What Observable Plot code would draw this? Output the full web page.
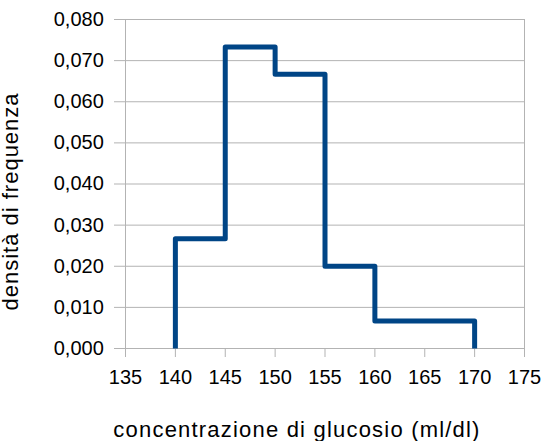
<!DOCTYPE html>
<html><head><meta charset="utf-8">
<script src="https://cdn.jsdelivr.net/npm/d3@7"></script>
<script src="https://cdn.jsdelivr.net/npm/@observablehq/plot@0.6"></script>
<style>body{margin:0;background:#fff}</style>
</head><body><div id="chart"></div>
<script>
const binStarts = [140, 145, 150, 155, 160, 165];
const binEnds = [145, 150, 155, 160, 165, 170];
const densities = [0.0267, 0.0733, 0.0667, 0.0200, 0.0067, 0.0067];
const xTicks = [135, 140, 145, 150, 155, 160, 165, 170, 175];
const yTicks = [0, 0.01, 0.02, 0.03, 0.04, 0.05, 0.06, 0.07, 0.08];
const xLabel = "concentrazione di glucosio (ml/dl)";
const yLabel = "densità di frequenza";

const pts = [{x: binStarts[0], y: 0}];
binStarts.forEach((s, i) => {
  pts.push({x: s, y: densities[i]});
  pts.push({x: binEnds[i], y: densities[i]});
});
pts.push({x: binEnds[binEnds.length - 1], y: 0});

const fmt = d => d3.format(".3f")(d).replace(".", ",");
const grid = "#b3b3b3";
const chart = Plot.plot({
  width: 543, height: 441,
  marginLeft: 125, marginRight: 19, marginTop: 19, marginBottom: 93,
  style: {fontFamily: "'Liberation Sans', Arial, sans-serif", fontSize: "20px", background: "#fff", color: "#000"},
  x: {domain: [135, 175], label: null},
  y: {domain: [0, 0.08], label: null},
  marks: [
    Plot.ruleY(yTicks, {stroke: grid, strokeOpacity: 1}),
    Plot.ruleX([xTicks[0], xTicks[xTicks.length - 1]], {stroke: grid, strokeOpacity: 1}),
    Plot.axisY({ticks: yTicks, tickSize: 11, tickPadding: 10.7, tickFormat: fmt, stroke: grid, strokeOpacity: 1, label: null, fontSize: 20}),
    Plot.axisX({ticks: xTicks, tickSize: 9, tickPadding: 12, stroke: grid, strokeOpacity: 1, label: null, fontSize: 20}),
    Plot.line(pts, {x: "x", y: "y", stroke: "#004586", strokeWidth: 5, strokeLinejoin: "round", strokeLinecap: "butt"}),
    Plot.text([xLabel], {frameAnchor: "bottom", textAnchor: "middle", lineAnchor: "middle", dx: -28, dy: 81.7, fontSize: 22, fill: "#000"}),
    Plot.text([yLabel], {frameAnchor: "left", textAnchor: "middle", lineAnchor: "middle", rotate: -90, dx: -114.3, dy: 17.5, fontSize: 22, fill: "#000"})
  ]
});
d3.select(chart).selectAll("text")
  .filter(function() { return this.textContent === xLabel; })
  .attr("letter-spacing", "1.2px");
d3.select(chart).selectAll("text")
  .filter(function() { return this.textContent === yLabel; })
  .attr("letter-spacing", "1px");
document.getElementById("chart").appendChild(chart);
</script>
</body></html>
